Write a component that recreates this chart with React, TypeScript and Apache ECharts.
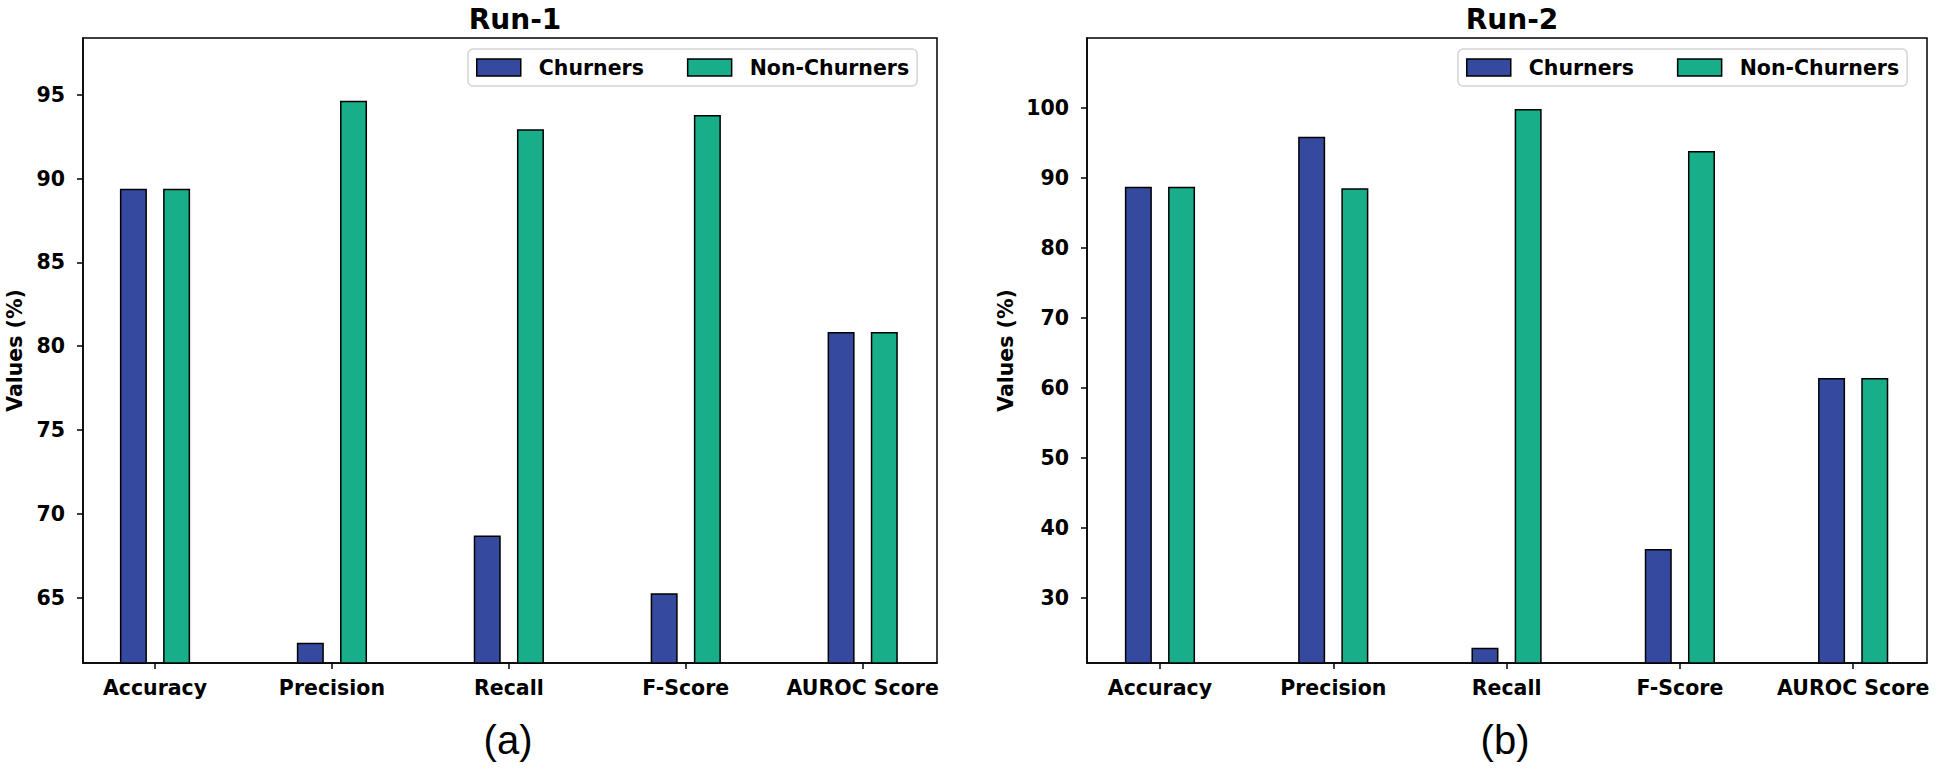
import React, { useEffect, useRef } from "react";
import * as echarts from "echarts";

const categories = ["Accuracy", "Precision", "Recall", "F-Score", "AUROC Score"];
const seriesNames = ["Churners", "Non-Churners"];
const run1Churners = [89.4, 62.3, 68.7, 65.25, 80.85];
const run1NonChurners = [89.4, 94.65, 92.95, 93.8, 80.85];
const run2Churners = [88.7, 95.85, 22.9, 37.0, 61.4];
const run2NonChurners = [88.7, 88.5, 99.8, 93.8, 61.4];
const run1Ticks = [65, 70, 75, 80, 85, 90, 95];
const run2Ticks = [30, 40, 50, 60, 70, 80, 90, 100];
const titles = ["Run-1", "Run-2"];
const subLabels = ["(a)", "(b)"];

const BLUE = "#354a9f";
const GREEN = "#17ae89";
const FONT = "DejaVu Sans";
const FS = 20.5;

export default function App() {
  const ref = useRef<HTMLDivElement>(null);
  useEffect(() => {
    if (!ref.current) return;
    const chart = echarts.init(ref.current, undefined, { renderer: "svg" });

    const grids = [
      { left: 83, top: 38, width: 854, height: 625 },
      { left: 1087, top: 38, width: 840, height: 625 },
    ];
    const xRanges = [
      [-0.407, 4.42],
      [-0.421, 4.426],
    ];
    const yRanges = [
      [61.09, 98.4],
      [20.73, 109.94],
    ];
    const yTicks = [run1Ticks, run2Ticks];
    const data = [
      [run1Churners, run1NonChurners],
      [run2Churners, run2NonChurners],
    ];
    const catIdx = categories.map((_, i) => i);

    const xAxis = [0, 1].map((g) => ({
      type: "value",
      gridIndex: g,
      min: xRanges[g][0],
      max: xRanges[g][1],
      splitLine: { show: false },
      axisLine: { show: true, onZero: false, lineStyle: { color: "#000", width: 1.5 } },
      axisTick: { show: true, customValues: catIdx, length: 6, lineStyle: { color: "#000", width: 1.5 } },
      axisLabel: {
        customValues: catIdx,
        formatter: (v: number) => categories[Math.round(v)] ?? "",
        color: "#000",
        fontFamily: FONT,
        fontWeight: "bold",
        fontSize: FS,
        margin: 14,
      },
    }));

    const yAxis = [0, 1].map((g) => ({
      type: "value",
      gridIndex: g,
      min: yRanges[g][0],
      max: yRanges[g][1],
      name: "Values (%)",
      nameLocation: "middle",
      nameGap: g === 0 ? 58 : 71,
      nameTextStyle: { color: "#000", fontFamily: FONT, fontWeight: "bold", fontSize: FS },
      splitLine: { show: false },
      axisLine: { show: true, onZero: false, lineStyle: { color: "#000", width: 1.5 } },
      axisTick: { show: true, customValues: yTicks[g], length: 6, lineStyle: { color: "#000", width: 1.5 } },
      axisLabel: {
        customValues: yTicks[g],
        color: "#000",
        fontFamily: FONT,
        fontWeight: "bold",
        fontSize: FS,
        margin: 18,
      },
    }));

    const series: any[] = [];
    [0, 1].forEach((g) => {
      [0, 1].forEach((s) => {
        series.push({
          type: "bar",
          name: seriesNames[s],
          xAxisIndex: g,
          yAxisIndex: g,
          barWidth: 27,
          barGap: "60%",
          data: data[g][s].map((v, i) => [i, v]),
          itemStyle: { color: s === 0 ? BLUE : GREEN, borderColor: "#000", borderWidth: 1.5 },
        });
      });
    });

    const legendLefts = [468, 1458];
    const legend = legendLefts.map((l) => ({
      data: seriesNames,
      left: l,
      top: 49,
      orient: "horizontal",
      padding: [8, 8],
      itemWidth: 44,
      itemHeight: 17,
      itemGap: 43,
      icon: "rect",
      selectedMode: false,
      borderColor: "#d4d4d4",
      borderWidth: 1.5,
      borderRadius: 5,
      backgroundColor: "#fff",
      itemStyle: { borderColor: "#000", borderWidth: 1.5 },
      textStyle: { color: "#000", fontFamily: FONT, fontWeight: "bold", fontSize: FS, padding: [0, 0, 0, 13] },
    }));

    const titleCenters = [510, 1507];
    const title = titles.map((t, i) => ({
      text: t,
      left: titleCenters[i],
      top: 0,
      textAlign: "center",
      textStyle: { color: "#000", fontFamily: FONT, fontWeight: "bold", fontSize: 28 },
    }));

    const graphic = subLabels.map((t, i) => ({
      type: "text",
      x: titleCenters[i] - 2,
      y: 740,
      style: {
        text: t,
        fill: "#000",
        font: "40px 'Liberation Sans', Arial, sans-serif",
        textAlign: "center",
        textVerticalAlign: "middle",
      },
    }));

    chart.setOption({
      animation: false,
      backgroundColor: "#fff",
      title,
      legend,
      grid: grids.map((g) => ({ ...g, show: true, borderColor: "#000", borderWidth: 1.5, backgroundColor: "transparent" })),
      xAxis,
      yAxis,
      series,
      graphic,
    });
    return () => chart.dispose();
  }, []);
  return <div ref={ref} style={{ position: "absolute", left: 0, top: 0, width: 1938, height: 770 }} />;
}
